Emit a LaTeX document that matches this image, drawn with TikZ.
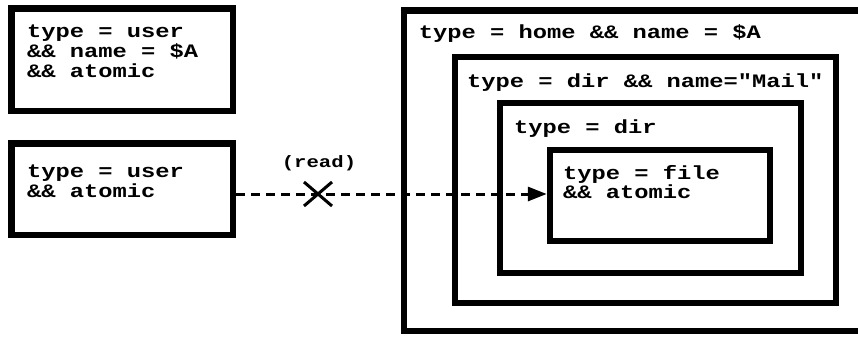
\documentclass[tikz,border=0pt]{standalone}
\usepackage{fontspec}
\newfontfamily\codefont[FakeStretch=1.25]{Liberation Mono}
\usetikzlibrary{arrows.meta,shapes.misc}
\tikzset{
  box/.style={draw, line width=6.5pt, inner sep=0pt},
  lbl/.style={font=\fontsize{19}{20}\selectfont\codefont\bfseries, inner sep=0pt, anchor=base west},
  tag/.style={font=\fontsize{16.5}{18}\selectfont\codefont\bfseries, inner sep=0pt, anchor=base},
  conn/.style={line width=3pt, dash pattern=on 9pt off 6pt, -{Triangle[length=19pt,width=14pt]}},
  blocked/.style={cross out, draw, line width=3pt, minimum width=25pt, minimum height=21pt, inner sep=0pt}
}
\begin{document}
\begin{tikzpicture}[x=1pt, y=-1pt]
\useasboundingbox (0,0) rectangle (858,337);
\clip (0,0) rectangle (858,337);

% principals on the left
\node[box, minimum width=221.5pt, minimum height=102.5pt] (usrA) at (122.25,59.75) {};
\node[lbl] (usrAa) at (27,37.5) {type = user};
\node[lbl] (usrAb) at (27,57.5) {\&\& name = \$A};
\node[lbl] (usrAc) at (27,77.5) {\&\& atomic};

\node[box, minimum width=221.5pt, minimum height=91.5pt] (usr) at (122.25,189.25) {};
\node[lbl] (usra) at (27,177.5) {type = user};
\node[lbl] (usrb) at (27,197) {\&\& atomic};

% nested resources on the right
\node[box, minimum width=476pt, minimum height=320.5pt] (home) at (642,170.75) {};
\node[lbl] (homet) at (418.7,38.7) {type = home \&\& name = \$A};

\node[box, minimum width=381pt, minimum height=246pt] (mail) at (645.5,180) {};
\node[lbl] (mailt) at (467,87.5) {type = dir \&\& name="Mail"};

\node[box, minimum width=301pt, minimum height=170pt] (dir) at (650.5,188) {};
\node[lbl] (dirt) at (514,133.5) {type = dir};

\node[box, minimum width=220pt, minimum height=91pt] (file) at (660,195.5) {};
\node[lbl] (filea) at (563,179) {type = file};
\node[lbl] (fileb) at (563,198.5) {\&\& atomic};

% denied read access
\coordinate (src) at (usr.east |- 0,194);
\coordinate (dst) at (file.west |- 0,194);
\node[blocked] (deny) at (318,194) {};
\node[tag] (read) at (319,167) {(read)};
\draw[conn] (src) -- (dst);
\end{tikzpicture}
\end{document}
